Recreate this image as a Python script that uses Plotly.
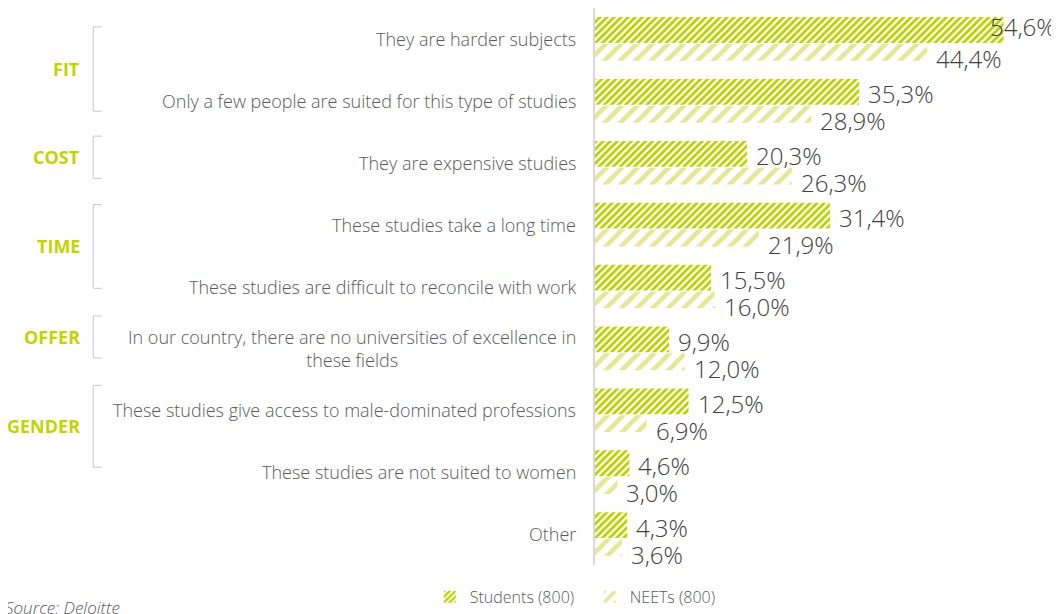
import plotly.graph_objects as go

categories = [
    "They are harder subjects",
    "Only a few people are suited for this type of studies",
    "They are expensive studies",
    "These studies take a long time",
    "These studies are difficult to reconcile with work",
    "In our country, there are no universities of excellence in<br>these fields",
    "These studies give access to male-dominated professions",
    "These studies are not suited to women",
    "Other",
]
students = [54.6, 35.3, 20.3, 31.4, 15.5, 9.9, 12.5, 4.6, 4.3]
neets = [44.4, 28.9, 26.3, 21.9, 16.0, 12.0, 6.9, 3.0, 3.6]
series_names = ["Students (800)", "NEETs (800)"]
groups = ["FIT", "COST", "TIME", "OFFER", "GENDER"]
# bracket extents (in row units) for each group
group_spans = [(-0.196, 1.169), (1.570, 2.254), (2.677, 4.030), (4.475, 5.154), (5.599, 6.92)]

rows = list(range(len(categories)))
NR = len(categories)

GREEN = "#bccf00"
LIGHT = "#e5e696"
TXT = "#595959"
VAL = "#404040"
FONT = "Open Sans"

W_FIG, H_FIG = 1051, 606
ML, MR, MT, MB = 587, 15, 0, 45


def row_to_paper(r):
    return (NR - 0.5 - r) / NR


fig = go.Figure()
fig.add_trace(go.Bar(
    name=series_names[0], orientation="h", x=students, y=rows,
    offset=-0.353, width=0.417, opacity=1,
    marker=dict(color=GREEN, opacity=1, line=dict(width=0),
                pattern=dict(shape="/", fgcolor=GREEN, fgopacity=1, bgcolor="white",
                             size=5, solidity=0.55, fillmode="replace")),
    hoverinfo="skip",
))
fig.add_trace(go.Bar(
    name=series_names[1], orientation="h", x=neets, y=rows,
    offset=0.08, width=0.273, opacity=1,
    marker=dict(color=LIGHT, opacity=1, line=dict(width=0),
                pattern=dict(shape="/", fgcolor=LIGHT, fgopacity=1, bgcolor="white",
                             size=11, solidity=0.42, fillmode="replace")),
    hoverinfo="skip",
))

ann = []
for r, c in zip(rows, categories):
    ann.append(dict(x=0, y=r, xref="x", yref="y", text=c, showarrow=False,
                    xanchor="right", xshift=-17, align="center" if "<br>" in c else "right",
                    font=dict(family=FONT, size=18, color=TXT, weight=300)))

smax = max(students)
for r, v in zip(rows, students):
    txt = f"{v:.1f}%".replace(".", ",")
    if v == smax:
        ann.append(dict(x=v, y=r, xref="x", yref="y", text=txt, showarrow=False,
                        xanchor="right", xshift=54, yshift=12,
                        font=dict(family=FONT, size=24, color=VAL, weight=300)))
    else:
        ann.append(dict(x=v, y=r, xref="x", yref="y", text=txt, showarrow=False,
                        xanchor="left", xshift=7, yshift=7,
                        font=dict(family=FONT, size=24, color=VAL, weight=300)))
for r, v in zip(rows, neets):
    txt = f"{v:.1f}%".replace(".", ",")
    ann.append(dict(x=v, y=r, xref="x", yref="y", text=txt, showarrow=False,
                    xanchor="left", xshift=7, yshift=-20,
                    font=dict(family=FONT, size=24, color=VAL, weight=300)))

shapes = []
BX, TX = -501.7, -493.3
for g, (y0, y1) in zip(groups, group_spans):
    p0, p1 = row_to_paper(y0), row_to_paper(y1)
    for seg in [(BX, p0, BX, p1), (BX, p0, TX, p0), (BX, p1, TX, p1)]:
        shapes.append(dict(type="line", xref="paper", yref="paper", xsizemode="pixel", xanchor=0,
                           x0=seg[0], y0=seg[1], x1=seg[2], y1=seg[3],
                           line=dict(color="#d0d0d0", width=1.2)))
    ann.append(dict(x=0, y=(p0 + p1) / 2, xref="paper", yref="paper", text=f"<b>{g}</b>", showarrow=False,
                    xanchor="right", yanchor="middle", xshift=-513,
                    font=dict(family=FONT, size=18, color="#c3d300")))

ann.append(dict(x=0, y=-0.076, xref="paper", yref="paper", text="<i>Source: Deloitte</i>", showarrow=False,
                xanchor="left", yanchor="middle", xshift=-592,
                font=dict(family=FONT, size=17, color=TXT, weight=300)))

fig.update_layout(
    width=W_FIG, height=H_FIG,
    margin=dict(l=ML, r=MR, t=MT, b=MB),
    barmode="overlay",
    plot_bgcolor="white", paper_bgcolor="white",
    showlegend=True,
    legend=dict(orientation="h", x=-0.368, xanchor="left", y=-0.057, yanchor="middle",
                font=dict(family=FONT, size=16, color=TXT, weight=300),
                itemwidth=30, traceorder="normal", entrywidth=115, entrywidthmode="pixels"),
    xaxis=dict(range=[0, 60], visible=False, fixedrange=True),
    yaxis=dict(range=[NR - 0.5, -0.5], showticklabels=False, showgrid=False, zeroline=False,
               showline=True, linecolor="#d9d9d9", linewidth=2, ticks=""),
    annotations=ann, shapes=shapes,
    font=dict(family=FONT),
)

fig.write_html("out.html")
